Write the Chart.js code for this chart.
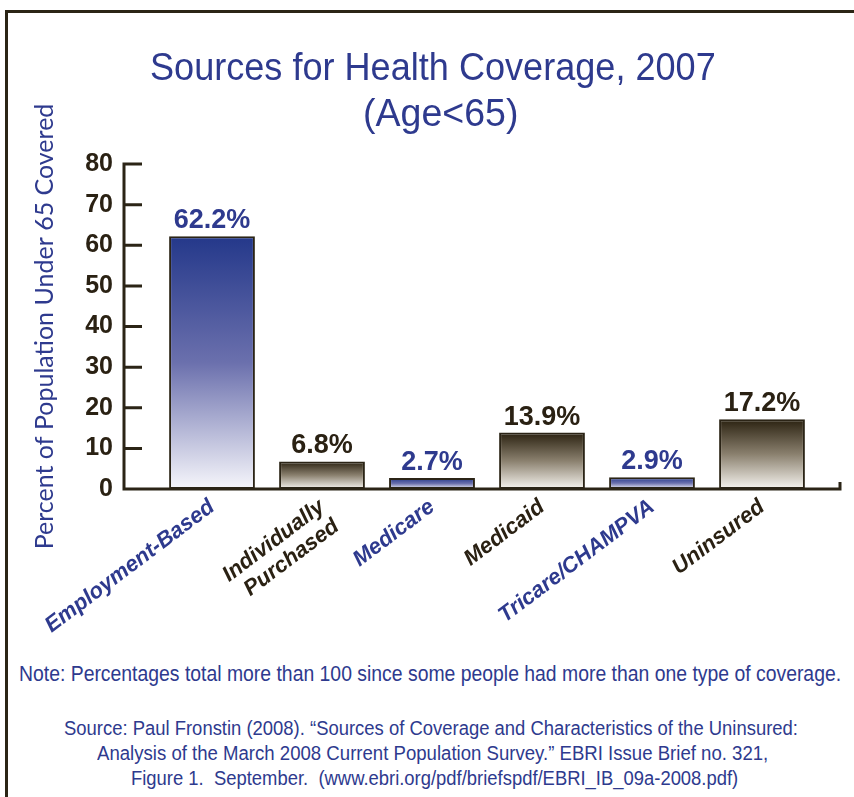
<!DOCTYPE html>
<html>
<head>
<meta charset="utf-8">
<script src="https://cdn.jsdelivr.net/npm/chart.js@4.4.1/dist/chart.umd.min.js"></script>
<style>
  html, body { margin: 0; padding: 0; background: #ffffff; }
  #page { position: relative; width: 854px; height: 797px; overflow: hidden; background: #ffffff; }
  #chartBox { position: absolute; left: 0; top: 0; width: 854px; height: 650px; }
  .frameTop { position: absolute; left: 5px; top: 10px; width: 849px; height: 3px; background: #2b2515; }
  .frameLeft { position: absolute; left: 5px; top: 10px; width: 3px; height: 787px; background: #2b2515; }
  .txt { position: absolute; white-space: nowrap; color: #2e3a8e; transform-origin: 0 50%; }
  .title { font-family: "Liberation Sans", Arial, sans-serif; font-size: 38px; line-height: 44px; }
  .note { font-family: "Liberation Sans Narrow", "Liberation Sans", Arial, sans-serif; font-size: 22px; line-height: 26px; }
  .src { font-family: "Liberation Sans Narrow", "Liberation Sans", Arial, sans-serif; font-size: 20px; line-height: 24px; }
</style>
</head>
<body>
<div id="page">
  <div class="frameTop"></div>
  <div class="frameLeft"></div>
  <div id="chartBox"><canvas id="c" width="854" height="650"></canvas></div>
  <div class="txt title" data-cx="433" data-cy="67" data-w="566">Sources for Health Coverage, 2007</div>
  <div class="txt title" data-cx="440" data-cy="113" data-w="155">(Age&lt;65)</div>
  <div class="txt note" data-cx="430" data-cy="674" data-w="822">Note: Percentages total more than 100 since some people had more than one type of coverage.</div>
  <div class="txt src" data-cx="431" data-cy="728" data-w="734">Source: Paul Fronstin (2008). “Sources of Coverage and Characteristics of the Uninsured:</div>
  <div class="txt src" data-cx="432" data-cy="753" data-w="671">Analysis of the March 2008 Current Population Survey.” EBRI Issue Brief no. 321,</div>
  <div class="txt src" data-cx="434" data-cy="778" data-w="607">Figure 1.&nbsp; September.&nbsp; (www.ebri.org/pdf/briefspdf/EBRI_IB_09a-2008.pdf)</div>
</div>
<script>
// ---- data ----
const categories = ['Employment-Based', ['Individually', 'Purchased'], 'Medicare', 'Medicaid', 'Tricare/CHAMPVA', 'Uninsured'];
const coveragePct = [62.2, 6.8, 2.7, 13.9, 2.9, 17.2];
const yMin = 0;
const yMax = 80;
const yStep = 10;
const yAxisTitle = 'Percent of Population Under 65 Covered';

// ---- styling ----
const BLUE = '#2e3a8e';
const DARK = '#2a2113';
const AXIS = '#2b2416';

function isBlue(i) { return i % 2 === 0; }

function barFill(ctx) {
  const chart = ctx.chart;
  const i = ctx.dataIndex;
  const yScale = chart.scales && chart.scales.y;
  if (!chart.chartArea || !yScale || ctx.type !== 'data') return isBlue(i) ? BLUE : DARK;
  const top = yScale.getPixelForValue(ctx.raw);
  const bottom = yScale.getPixelForValue(0);
  const g = chart.ctx.createLinearGradient(0, top, 0, bottom);
  if (isBlue(i)) {
    g.addColorStop(0, '#24388a');
    g.addColorStop(0.5, '#6b70ad');
    g.addColorStop(1, '#f6f6fb');
  } else {
    g.addColorStop(0, '#2a2110');
    g.addColorStop(0.5, '#8a806e');
    g.addColorStop(1, '#f7f5f0');
  }
  return g;
}

const axisPlugin = {
  id: 'axisLines',
  afterDatasetsDraw(chart) {
    const { ctx, chartArea, scales } = chart;
    const y = scales.y;
    const ax = chartArea.left - 33;
    const y0 = y.getPixelForValue(yMin);
    const yTop = y.getPixelForValue(yMax);
    ctx.save();
    ctx.strokeStyle = AXIS;
    ctx.lineWidth = 3;
    ctx.lineCap = 'butt';
    ctx.beginPath();
    ctx.moveTo(ax, yTop - 1.5);
    ctx.lineTo(ax, y0 + 1.5);
    y.ticks.forEach(t => {
      const py = y.getPixelForValue(t.value);
      ctx.moveTo(ax, py);
      ctx.lineTo(ax + 18, py);
    });
    const xr = chartArea.right + 23;
    ctx.moveTo(ax - 1.5, y0);
    ctx.lineTo(xr, y0);
    ctx.moveTo(xr, y0 + 1.5);
    ctx.lineTo(xr, y0 - 7);
    ctx.stroke();
    ctx.restore();
  }
};

const valueLabelPlugin = {
  id: 'valueLabels',
  afterDatasetsDraw(chart) {
    const { ctx } = chart;
    const meta = chart.getDatasetMeta(0);
    const vals = chart.data.datasets[0].data;
    ctx.save();
    ctx.font = 'bold 27px "Liberation Sans", Arial, sans-serif';
    ctx.textAlign = 'center';
    ctx.textBaseline = 'alphabetic';
    meta.data.forEach((bar, i) => {
      ctx.fillStyle = isBlue(i) ? BLUE : DARK;
      ctx.fillText(vals[i].toFixed(1) + '%', bar.x, bar.y - 8);
    });
    ctx.restore();
  }
};

new Chart(document.getElementById('c'), {
  type: 'bar',
  data: {
    labels: categories,
    datasets: [{
      data: coveragePct,
      backgroundColor: barFill,
      borderColor: AXIS,
      borderWidth: 2,
      borderSkipped: false,
      barPercentage: 0.78,
      categoryPercentage: 1.0
    }]
  },
  options: {
    responsive: false,
    animation: false,
    layout: { padding: { top: 164, right: 37, bottom: 0, left: 0 } },
    plugins: {
      legend: { display: false },
      tooltip: { enabled: false },
      title: { display: false }
    },
    scales: {
      x: {
        offset: true,
        grid: { display: false, drawTicks: false },
        border: { display: false },
        ticks: {
          autoSkip: false,
          minRotation: 37,
          maxRotation: 37,
          padding: 6,
          color: (c) => isBlue(c.index) ? BLUE : DARK,
          font: { family: '"Liberation Sans", Arial, sans-serif', size: 22, weight: 'bold', style: 'italic', lineHeight: 1.1 }
        },
        afterFit: (s) => { s.height = 161; }
      },
      y: {
        min: yMin,
        max: yMax,
        grid: { display: false, drawTicks: false },
        border: { display: false },
        ticks: {
          stepSize: yStep,
          padding: 44,
          color: DARK,
          font: { family: '"Liberation Sans", Arial, sans-serif', size: 25, weight: 'bold' }
        },
        title: {
          display: true,
          text: yAxisTitle,
          color: BLUE,
          padding: { top: 30, bottom: 0 },
          font: { family: 'Lato, "Open Sans", sans-serif', size: 25, weight: 'normal', lineHeight: 1.2 }
        },
        afterFit: (s) => { s.width = 157; }
      }
    }
  },
  plugins: [axisPlugin, valueLabelPlugin]
});

// fit html text lines to their measured extents in the reference
document.querySelectorAll('.txt').forEach(el => {
  const cx = +el.dataset.cx, cy = +el.dataset.cy, w = +el.dataset.w;
  const rw = el.offsetWidth, rh = el.offsetHeight;
  const s = w / rw;
  el.style.left = (cx - w / 2) + 'px';
  el.style.top = (cy - rh / 2) + 'px';
  el.style.transform = 'scaleX(' + s.toFixed(4) + ')';
});
</script>
</body>
</html>
